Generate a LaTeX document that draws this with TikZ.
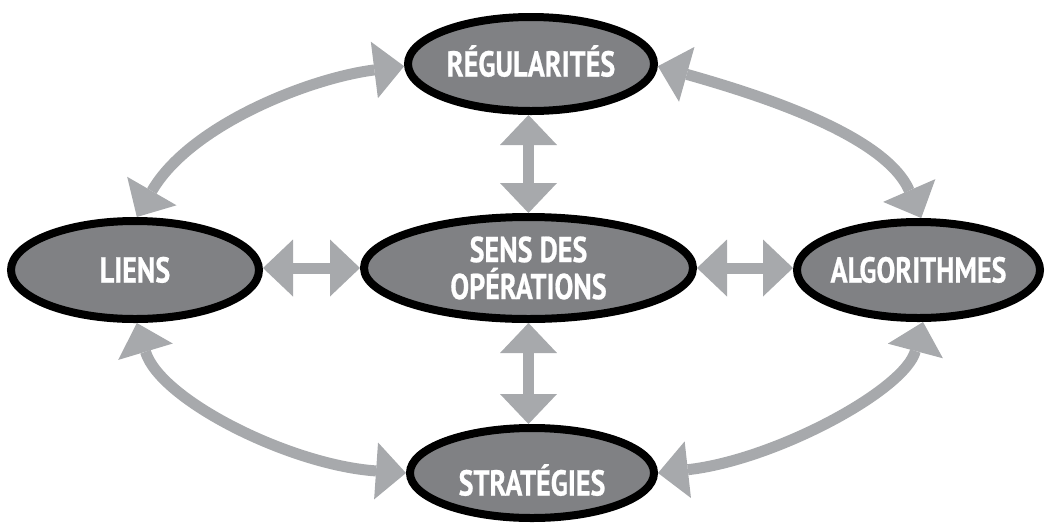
\documentclass[tikz,border=0pt]{standalone}
\usepackage{fontspec}
\usetikzlibrary{shapes.geometric,arrows.meta}
\newfontfamily\labelfont[FakeStretch=0.78,FakeBold=0.6]{PT Sans}
\definecolor{ellgray}{RGB}{128,129,132}
\definecolor{arrgray}{RGB}{167,169,172}
\tikzset{
  bubble/.style={ellipse, draw=black, line width=8pt, fill=ellgray, text=white,
    inner sep=-20pt, align=center,
    font=\labelfont\bfseries\fontsize{36}{37}\selectfont},
  oneline/.style={text height=25pt, text depth=0pt},
  link/.style={draw=arrgray, line width=11pt,
    arrows={Triangle[length=30pt,width=57pt,line width=0pt]-Triangle[length=30pt,width=57pt,line width=0pt]}}
}
\begin{document}
\begin{tikzpicture}[x=1pt,y=-1pt]
\useasboundingbox (0,0) rectangle (1047,523);

% the five themes
\node[bubble, oneline, minimum width=246pt, minimum height=94pt] (reg) at (531,64) {RÉGULARITÉS};
\node[bubble, minimum width=329pt, minimum height=102pt] (sens) at (528.5,268) {SENS DES\\OPÉRATIONS};
\node[bubble, oneline, minimum width=248pt, minimum height=98pt] (liens) at (135,270) {LIENS};
\node[bubble, oneline, minimum width=243pt, minimum height=96pt] (algo) at (918.5,270) {ALGORITHMES};
\node[bubble, text height=45pt, text depth=0pt, minimum width=244pt, minimum height=90pt] (strat) at (532,473) {STRATÉGIES};

% straight links around the centre
\draw[link] (sens.north) -- (sens.north |- reg.south);
\draw[link] (sens.south) -- (sens.south |- strat.north);
\draw[link] (sens.west) -- (sens.west -| liens.east);
\draw[link] (sens.east) -- (sens.east -| algo.west);

% curved links on the outer ring
\draw[link] (reg.181) .. controls (310,78) and (190,125) .. (liens.88);
\draw[link] (reg.359) .. controls (760,95) and (885,135) .. (algo.87);
\draw[link] (liens.272) .. controls (160,400) and (290,465) .. (strat.180);
\draw[link] (algo.275) .. controls (905,390) and (775,460) .. (strat.0);
\end{tikzpicture}
\end{document}
